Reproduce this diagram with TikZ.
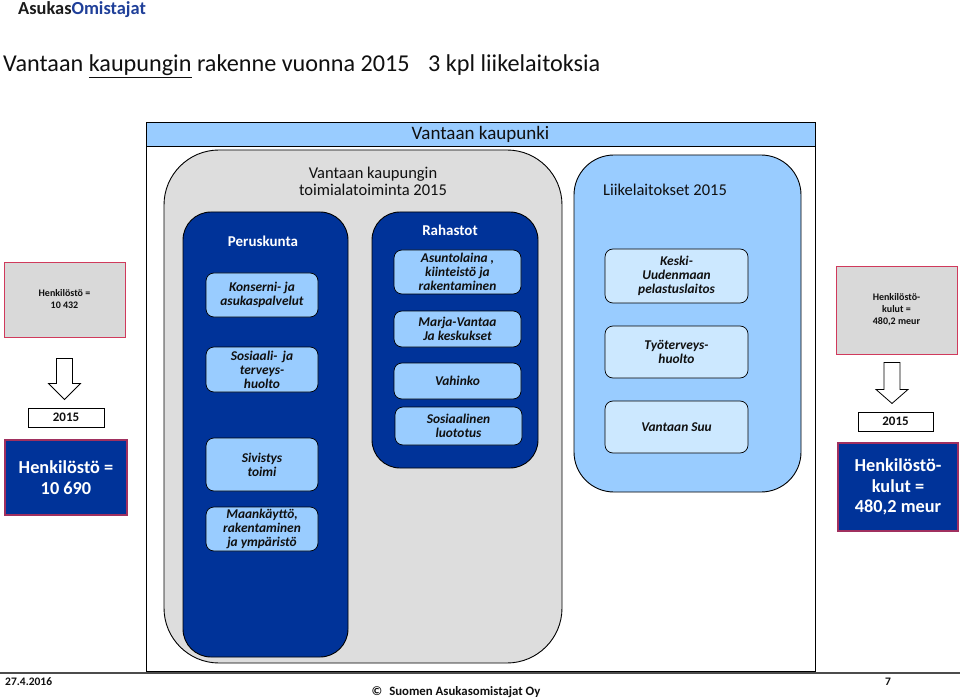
\documentclass[tikz,border=0pt]{standalone}
\usepackage{fontspec}
\setmainfont{Carlito}
\usetikzlibrary{positioning}

\definecolor{dblue}{HTML}{003399}
\definecolor{lblue}{HTML}{99CCFF}
\definecolor{vlblue}{HTML}{CCE8FF}
\definecolor{cgray}{HTML}{DDDDDD}
\definecolor{igray}{HTML}{D9D9D9}
\definecolor{infored}{HTML}{D03A5C}
\definecolor{deepred}{HTML}{A0305F}
\definecolor{asdark}{HTML}{1C1C1C}
\definecolor{asblue}{HTML}{1F3F99}
\definecolor{tdark}{HTML}{101010}

\newcommand{\fs}[2]{\fontsize{#1}{#2}\selectfont}

\begin{document}
\begin{tikzpicture}[x=1pt,y=-1pt]
\tikzstyle{every node}=[inner sep=0pt,align=center,text=tdark]
\tikzstyle{area}=[draw,line width=0.9pt]
\tikzstyle{head}=[font=\fs{16.5}{17}]
\tikzstyle{unit}=[draw,fill=lblue,rounded corners=8,line width=0.7pt,minimum width=112,font=\fs{13.4}{14}\bfseries\itshape]
\tikzstyle{fund}=[unit,minimum width=127]
\tikzstyle{firm}=[unit,fill=vlblue,minimum width=143]
\tikzstyle{staff}=[draw=infored,fill=igray,line width=0.9pt,minimum width=121,font=\fs{10}{12}\bfseries]
\tikzstyle{staffnew}=[draw=deepred,fill=dblue,line width=1.2pt,text=white,font=\fs{18.3}{20.5}\bfseries]
\tikzstyle{year}=[draw,fill=white,line width=0.8pt,minimum height=19,font=\fs{13}{14}\bfseries]
\tikzstyle{hollow}=[draw,fill=white,line width=0.8pt]
\useasboundingbox (0,0) rectangle (960,700);

% title
\node[anchor=west,font=\fs{18.4}{20}\bfseries] (LG) at (18,9.5) {\textcolor{asdark}{Asukas}\textcolor{asblue}{Omistajat}};
\node[anchor=west,font=\fs{24.2}{26}] (TT) at (3,66) {Vantaan \underline{kaupungin} rakenne vuonna 2015\hspace{13pt} 3 kpl liikelaitoksia};

% city frame
\node[area,fill=white,minimum width=669,minimum height=549] (VK) at (480.5,396.5) {};
\node[area,fill=lblue,minimum width=669,minimum height=24,anchor=north,font=\fs{19}{20}] (VKH) at (VK.north) {Vantaan kaupunki};

\node[area,fill=cgray,rounded corners=55,minimum width=398,minimum height=513] (TA) at (363,406.5) {};
\node[head] (TAT) at (373,181.5) {Vantaan kaupungin\\toimialatoiminta 2015};

\node[area,fill=lblue,rounded corners=40,minimum width=227,minimum height=337] (LL) at (687.5,323.5) {};
\node[head] (LLT) at (665,190) {Liikelaitokset 2015};

% peruskunta
\node[area,fill=dblue,rounded corners=28,minimum width=165,minimum height=445] (PK) at (265.5,434.5) {};
\node[text=white,font=\fs{15}{17}\bfseries] (PKT) at (263,241) {Peruskunta};
\node[unit,minimum height=44] (KO) at (262,295) {Konserni- ja\\asukaspalvelut};
\node[unit,minimum height=45] (SO) at (262,369.5) {Sosiaali-\, ja\\terveys-\\huolto};
\node[unit,minimum height=53] (SI) at (262,464.5) {Sivistys\\toimi};
\node[unit,minimum height=44] (MA) at (262,529) {Maankäyttö,\\rakentaminen\\ja ympäristö};

% rahastot
\node[area,fill=dblue,rounded corners=28,minimum width=166,minimum height=256] (RA) at (455,340) {};
\node[text=white,font=\fs{15}{17}\bfseries] (RAT) at (450,230) {Rahastot};
\node[fund,minimum height=44] (AS) at (457.5,272) {Asuntolaina ,\\kiinteistö ja\\rakentaminen};
\node[fund,minimum height=36] (MV) at (457.5,329) {Marja-Vantaa\\Ja keskukset};
\node[fund,minimum height=36] (VA) at (457.5,381) {Vahinko};
\node[fund,minimum height=38] (SL) at (458.5,426) {Sosiaalinen\\luototus};

% liikelaitokset
\node[firm,minimum height=54] (KU) at (676.5,276) {Keski-\\Uudenmaan\\pelastuslaitos};
\node[firm,minimum height=52] (TY) at (676.5,352) {Työterveys-\\huolto};
\node[firm,minimum height=52] (VS) at (676.5,427) {Vantaan Suu};

% henkilosto left
\node[staff,minimum height=75] (HL) at (64.5,299.5) {Henkilöstö =\\10 432};
\node[year,minimum width=76] (YL) at (66,417.5) {2015};
\node[staffnew,minimum width=122,minimum height=75] (HN) at (66,477.5) {Henkilöstö =\\10 690};
\draw[hollow,shift={(HL.south)}] (-8,21) -- (8,21) -- (8,46) -- (16,46) -- (0,62) -- (-16,46) -- (-8,46) -- cycle;

% henkilostokulut right
\node[staff,minimum height=88] (HR) at (896.5,310) {Henkilöstö-\\kulut =\\480,2 meur};
\node[year,minimum width=75] (YR) at (895.5,421.5) {2015};
\node[staffnew,minimum width=120,minimum height=88] (HK) at (898,487) {Henkilöstö-\\kulut =\\480,2 meur};
\draw[hollow,shift={(HR.south)}] (-12.5,8) -- (3.5,8) -- (3.5,35) -- (11.5,35) -- (-4.5,49) -- (-20.5,35) -- (-12.5,35) -- cycle;

% footer
\draw[line width=1.6pt,black!70] (0,673) -- (960,673);
\node[anchor=west,font=\fs{11.5}{12}\bfseries] (DT) at (5,682) {27.4.2016};
\node[anchor=west,font=\fs{11.5}{12}\bfseries] (PG) at (885,682) {7};
\node[font=\fs{12.8}{14}\bfseries] (CR) at (456,692) {©\hspace{7pt}Suomen Asukasomistajat Oy};
\end{tikzpicture}
\end{document}
